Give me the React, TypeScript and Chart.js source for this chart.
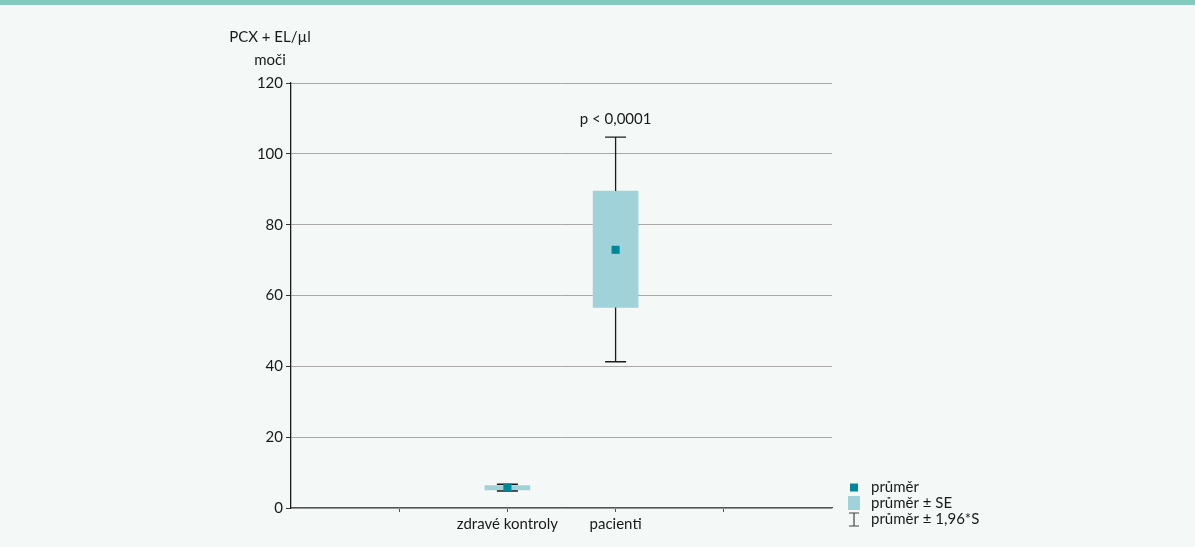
import React, { useEffect, useRef } from "react";
import { Chart, registerables } from "chart.js";

Chart.register(...registerables);

// Groups and their positions on the x axis
const groups = ["zdravé kontroly", "pacienti"];
const groupPos = [2, 3];
const xTickValues = [1, 2, 3, 4];

// Mean, mean ± SE and mean ± 1.96*S (PCX + EL per µl of urine)
const means = [5.8, 72.9];
const seLow = [5.1, 56.6];
const seHigh = [6.3, 89.5];
const ciLow = [4.8, 41.3];
const ciHigh = [6.7, 104.7];

const yTicks = [0, 20, 40, 60, 80, 100, 120];
const pLabel = "p < 0,0001";
const yTitle = ["PCX + EL/µl", "moči"];
const legendItems = ["průměr", "průměr ± SE", "průměr ± 1,96*S"];

const FONT = "Lato, 'Open Sans', sans-serif";
const BOX = "#A0D2DA";
const MEAN = "#00879A";
const INK = "#1c1c1c";
const TEXT = "#1a1a1a";

const whiskerPlugin = {
  id: "whiskers",
  afterDatasetDraw(chart: any, args: any) {
    if (args.index !== 0) return;
    const { ctx, scales } = chart;
    const xs = scales.x;
    const ys = scales.y;
    ctx.save();
    ctx.strokeStyle = INK;
    ctx.lineWidth = 1.3;
    groupPos.forEach((g, i) => {
      const x = xs.getPixelForValue(g);
      const capHalf = 10.5;
      const segs: [number, number][] = [
        [ciHigh[i], seHigh[i]],
        [seLow[i], ciLow[i]],
      ];
      ctx.beginPath();
      segs.forEach(([a, b]) => {
        ctx.moveTo(x, ys.getPixelForValue(a));
        ctx.lineTo(x, ys.getPixelForValue(b));
      });
      [ciHigh[i], ciLow[i]].forEach((v) => {
        const y = ys.getPixelForValue(v);
        ctx.moveTo(x - capHalf, y);
        ctx.lineTo(x + capHalf, y);
      });
      ctx.stroke();
    });
    ctx.restore();
  },
};

const textPlugin = {
  id: "annotations",
  afterDraw(chart: any) {
    const { ctx, scales, chartArea } = chart;
    const xs = scales.x;
    const ys = scales.y;
    ctx.save();
    ctx.fillStyle = TEXT;
    ctx.font = `15px ${FONT}`;
    ctx.textBaseline = "middle";
    ctx.textAlign = "center";

    // axis title above the value axis
    ctx.fillText(yTitle[0], chartArea.left - 21, 37);
    ctx.fillText(yTitle[1], chartArea.left - 21, 60);

    // significance above the patient group
    const px = xs.getPixelForValue(groupPos[1]);
    ctx.fillText(pLabel, px, ys.getPixelForValue(ciHigh[1]) - 18);

    // legend
    const lx = 854;
    const rows = [487, 503, 519];
    ctx.fillStyle = MEAN;
    ctx.fillRect(lx - 4, rows[0] - 3.5, 8, 8);
    ctx.fillStyle = BOX;
    ctx.fillRect(lx - 6, rows[1] - 7, 12, 14);
    ctx.strokeStyle = "#444";
    ctx.lineWidth = 1.2;
    ctx.beginPath();
    ctx.moveTo(lx - 5, rows[2] - 6);
    ctx.lineTo(lx + 5, rows[2] - 6);
    ctx.moveTo(lx, rows[2] - 6);
    ctx.lineTo(lx, rows[2] + 7);
    ctx.moveTo(lx - 5, rows[2] + 7);
    ctx.lineTo(lx + 5, rows[2] + 7);
    ctx.stroke();
    ctx.fillStyle = TEXT;
    ctx.textAlign = "left";
    legendItems.forEach((t, i) => ctx.fillText(t, 871, rows[i]));
    ctx.restore();
  },
};

export default function App() {
  const ref = useRef<HTMLCanvasElement>(null);

  useEffect(() => {
    if (!ref.current) return;
    const chart = new Chart(ref.current, {
      type: "bar",
      data: {
        datasets: [
          {
            type: "bar",
            order: 1,
            data: groupPos.map((g, i) => ({ x: g, y: [seLow[i], seHigh[i]] })) as any,
            backgroundColor: BOX,
            borderWidth: 0,
            barThickness: 45,
          },
          {
            type: "scatter",
            order: 0,
            data: groupPos.map((g, i) => ({ x: g, y: means[i] })),
            pointStyle: "rect",
            pointRadius: 5.7,
            pointBorderWidth: 0,
            backgroundColor: MEAN,
          },
        ],
      },
      options: {
        responsive: false,
        animation: false,
        events: [],
        layout: { padding: { left: 0, top: 83, right: 363, bottom: 9 } },
        plugins: { legend: { display: false }, tooltip: { enabled: false } },
        scales: {
          x: {
            type: "linear",
            offset: false,
            min: 0,
            max: 5,
            afterBuildTicks: (s: any) => {
              s.ticks = xTickValues.map((v) => ({ value: v }));
            },
            afterFit: (s: any) => {
              s.height = 30;
            },
            grid: {
              offset: false,
              drawOnChartArea: false,
              drawTicks: true,
              tickLength: 4,
              tickColor: "#555",
            },
            border: { color: "#555", width: 1.3 },
            ticks: {
              autoSkip: false,
              maxRotation: 0,
              padding: 3,
              color: TEXT,
              font: { family: FONT, size: 15 },
              callback: (v: any) => {
                const i = groupPos.indexOf(Number(v));
                return i >= 0 ? groups[i] : "";
              },
            },
          },
          y: {
            min: 0,
            max: 120,
            afterBuildTicks: (s: any) => {
              s.ticks = yTicks.map((v) => ({ value: v }));
            },
            afterFit: (s: any) => {
              s.width = 291;
            },
            grid: {
              color: "#A8A8A8",
              lineWidth: 1,
              drawTicks: true,
              tickLength: 5,
              tickColor: "#333",
            },
            border: { color: INK, width: 1.3 },
            ticks: {
              padding: 3,
              color: TEXT,
              font: { family: FONT, size: 15 },
            },
          },
        },
      },
      plugins: [whiskerPlugin, textPlugin],
    });
    return () => chart.destroy();
  }, []);

  return (
    <div
      style={{
        position: "fixed",
        left: 0,
        top: 0,
        width: 1195,
        height: 547,
        background: "#F4F8F7",
      }}
    >
      <div style={{ position: "absolute", left: 0, top: 0, width: 1195, height: 5, background: "#84CBBF" }} />
      <canvas ref={ref} width={1195} height={547} style={{ position: "absolute", left: 0, top: 0 }} />
    </div>
  );
}
